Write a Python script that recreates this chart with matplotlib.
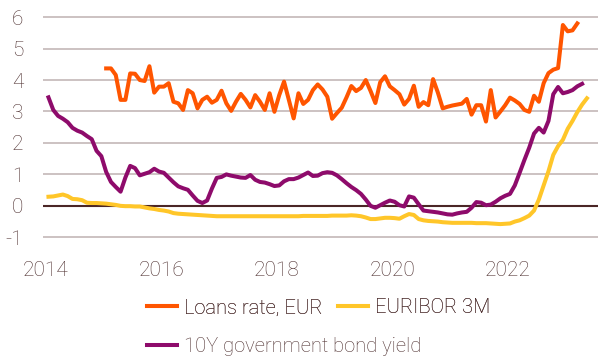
import numpy as np
import matplotlib
matplotlib.use("Agg")
import matplotlib.pyplot as plt

# monthly series, values
bond_start = 2014  # Jan 2014
bond_10y = [
    3.45, 3.05, 2.86, 2.77, 2.66, 2.48, 2.39, 2.33, 2.22, 2.12, 1.75, 1.58,
    1.08, 0.76, 0.60, 0.45, 0.90, 1.27, 1.20, 0.97, 1.02, 1.07, 1.18, 1.09,
    1.05, 0.90, 0.75, 0.62, 0.56, 0.51, 0.33, 0.16, 0.09, 0.17, 0.55, 0.89,
    0.92, 1.00, 0.96, 0.93, 0.90, 0.89, 0.98, 0.83, 0.76, 0.74, 0.69, 0.63,
    0.65, 0.78, 0.85, 0.85, 0.90, 0.98, 1.06, 0.95, 0.96, 1.04, 1.07, 1.05,
    0.97, 0.85, 0.72, 0.60, 0.50, 0.38, 0.20, 0.00, -0.06, 0.02, 0.10, 0.17,
    0.13, 0.02, -0.02, 0.30, 0.26, 0.05, -0.15, -0.17, -0.19, -0.21, -0.24, -0.27,
    -0.28, -0.24, -0.21, -0.19, -0.06, 0.12, 0.10, 0.02, 0.04, 0.13, 0.24, 0.32,
    0.38, 0.65, 1.05, 1.46, 1.85, 2.30, 2.48, 2.33, 2.70, 3.55, 3.78, 3.58,
    3.62, 3.68, 3.80, 3.88,
]

euribor_start = 2014  # Jan 2014
euribor_3m = [
    0.29, 0.30, 0.33, 0.36, 0.31, 0.22, 0.21, 0.18, 0.10, 0.09, 0.09, 0.08,
    0.07, 0.05, 0.03, 0.00, -0.01, -0.01, -0.02, -0.02, -0.05, -0.08, -0.10, -0.13,
    -0.15, -0.18, -0.23, -0.25, -0.26, -0.27, -0.28, -0.29, -0.30, -0.31, -0.32, -0.33,
    -0.33, -0.33, -0.33, -0.33, -0.33, -0.33, -0.33, -0.33, -0.33, -0.33, -0.33, -0.33,
    -0.33, -0.33, -0.33, -0.33, -0.33, -0.32, -0.32, -0.32, -0.32, -0.32, -0.32, -0.31,
    -0.31, -0.31, -0.31, -0.30, -0.31, -0.33, -0.37, -0.42, -0.42, -0.40, -0.38, -0.38,
    -0.39, -0.41, -0.33, -0.26, -0.29, -0.42, -0.46, -0.48, -0.49, -0.50, -0.52, -0.53,
    -0.54, -0.54, -0.54, -0.54, -0.54, -0.55, -0.55, -0.55, -0.56, -0.57, -0.58, -0.57,
    -0.56, -0.50, -0.46, -0.39, -0.31, -0.15, 0.20, 0.65, 1.10, 1.62, 1.90, 2.10,
    2.45, 2.70, 2.98, 3.22, 3.42,
]

loans_start = 2015  # Jan 2015
loans_rate = [
    4.37, 4.37, 4.16, 3.37, 3.37, 4.21, 4.20, 4.00, 3.97, 4.44, 3.60, 3.79,
    3.79, 3.90, 3.31, 3.26, 3.05, 3.68, 3.58, 3.10, 3.37, 3.47, 3.28, 3.37,
    3.66, 3.26, 3.02, 3.31, 3.56, 3.37, 3.13, 3.52, 3.31, 3.05, 3.58, 2.99,
    3.52, 3.95, 3.37, 2.78, 3.58, 3.24, 3.37, 3.68, 3.86, 3.70, 3.47, 2.77,
    2.95, 3.12, 3.45, 3.81, 3.65, 3.75, 4.00, 3.65, 3.27, 3.93, 4.12, 3.80,
    3.68, 3.55, 3.22, 3.40, 3.82, 3.15, 3.30, 3.20, 4.03, 3.60, 3.10, 3.15,
    3.19, 3.22, 3.25, 3.40, 2.90, 3.20, 3.20, 2.68, 3.68, 2.81, 3.00, 3.20,
    3.44, 3.35, 3.24, 3.05, 2.99, 3.50, 3.31, 3.90, 4.22, 4.33, 4.38, 5.75,
    5.55, 5.58, 5.80,
]

year_ticks = [2014, 2016, 2018, 2020, 2022]
value_ticks = [-1, 0, 1, 2, 3, 4, 5, 6]

ORANGE = '#FF5500'
YELLOW = '#FFC629'
PURPLE = '#8E0B6B'
TEXT = '#4E3030'
GRID = '#BFB2B2'
ZERO = '#4B2626'


def months(start, n):
    return start + (np.arange(n) + 0.5) / 12.0


plt.rcParams['font.family'] = ['Roboto', 'DejaVu Sans']

fig = plt.figure(figsize=(5.98, 3.56), dpi=100)
ax = fig.add_axes([0.072, 0.3025, 0.928, 0.667])

for v in value_ticks:
    if v != 0:
        ax.axhline(v, color=GRID, lw=1.1, zorder=1)
ax.axhline(0, color=ZERO, lw=1.5, zorder=1)

l_loans, = ax.plot(months(loans_start, len(loans_rate)), loans_rate,
                   color=ORANGE, lw=2.9, label='Loans rate, EUR', zorder=3)
l_eur, = ax.plot(months(euribor_start, len(euribor_3m)), euribor_3m,
                 color=YELLOW, lw=2.9, label='EURIBOR 3M', zorder=3)
l_bond, = ax.plot(months(bond_start, len(bond_10y)), bond_10y,
                  color=PURPLE, lw=2.9, label='10Y government bond yield', zorder=3)

ax.set_xlim(2013.948, 2023.567)
ax.set_ylim(-1.35, 6.2)
ax.set_xticks(year_ticks)
ax.set_xticklabels([str(y) for y in year_ticks])
ax.set_yticks(value_ticks)
ax.set_yticklabels([str(v) for v in value_ticks])
ax.tick_params(axis='both', length=0, colors=TEXT, labelsize=15)
ax.tick_params(axis='x', pad=9)
ax.tick_params(axis='y', pad=14)
for lab in ax.get_xticklabels() + ax.get_yticklabels():
    lab.set_fontweight('light')
for s in ax.spines.values():
    s.set_visible(False)

leg_kw = dict(frameon=False, loc='center left', bbox_transform=fig.transFigure,
              borderpad=0, borderaxespad=0, handlelength=1.5, handletextpad=0.35,
              columnspacing=0.75, prop={'size': 14.5, 'weight': 'light'},
              labelcolor=TEXT)
leg1 = fig.legend(handles=[l_loans, l_eur], ncol=2,
                  bbox_to_anchor=(0.2458, 0.135), **leg_kw)
fig.add_artist(leg1)
fig.legend(handles=[l_bond], bbox_to_anchor=(0.2458, 0.027), **leg_kw)

fig.savefig('out.png', dpi=100)
